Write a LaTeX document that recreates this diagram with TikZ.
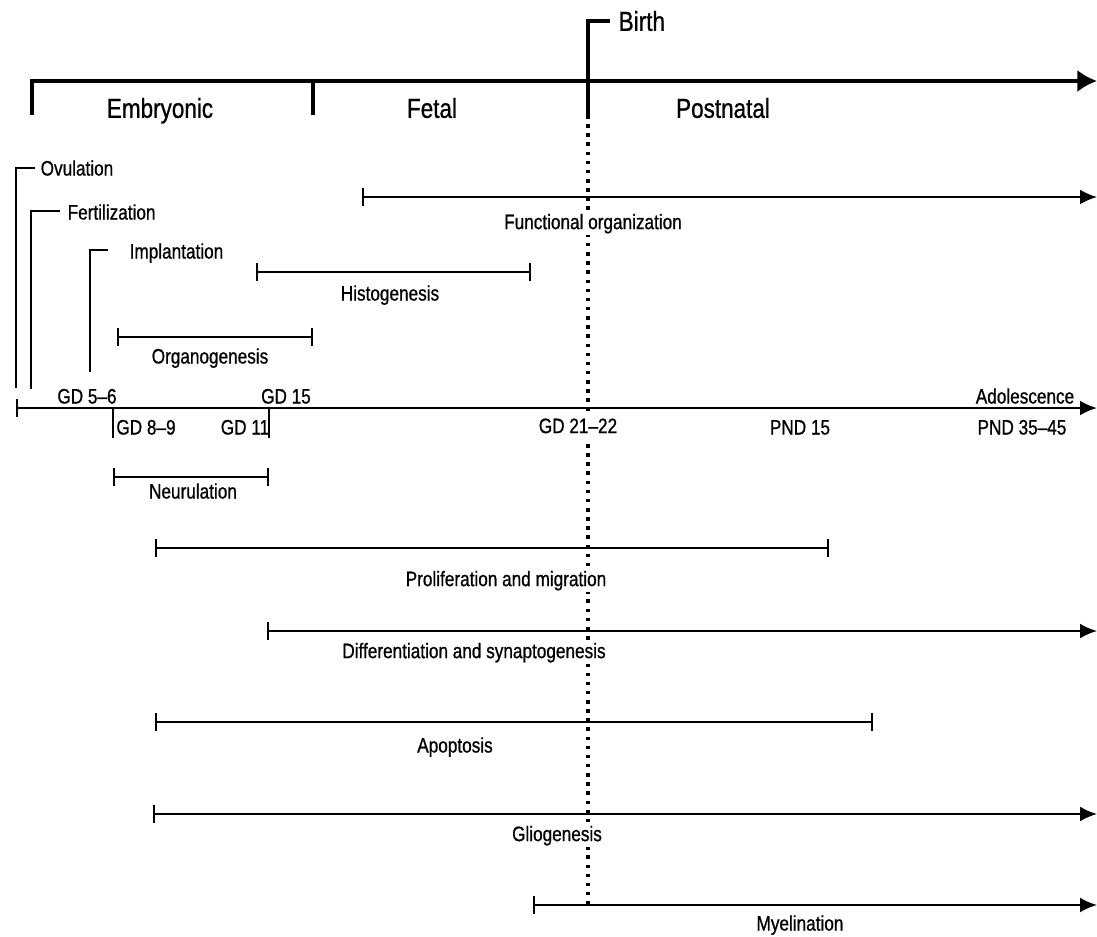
\documentclass[tikz,border=0pt]{standalone}
\usepackage{fontspec}
\setmainfont[FakeStretch=0.82,FakeBold=0.8]{Liberation Sans}
\usepackage{tikz}
\usetikzlibrary{arrows.meta,positioning}

\begin{document}
\begin{tikzpicture}[x=0.025cm,y=-0.025cm,every node/.style={font=\fontsize{14.9}{17}\selectfont,inner sep=1pt,text height=10.7pt,text depth=0pt},period/.style={font=\fontsize{19.5}{23}\selectfont,text height=14pt},over/.style={fill=white,inner sep=2pt,text depth=2pt},span/.style={line width=1.4pt,{Bar[width=13pt]}-{Bar[width=13pt]}},onward/.style={line width=1.4pt,{Bar[width=13pt]}-{Latex[length=12pt,width=10.5pt]}},evt/.style={line width=1.4pt},gdtick/.style={line width=1.4pt}]
\useasboundingbox (0,0) rectangle (1097,936);
% periods
\coordinate (stA) at (32,115);
\coordinate (stB) at (313,115);
\coordinate (stEnd) at (1097,81);
\coordinate (birthstub) at (610,21);
\coordinate (birthlow) at (588,115);
\coordinate (birthend) at (588,905);
\draw[line width=2.8pt,-{Latex[length=14pt,width=16pt]}] (stA) |- (stEnd);
\draw[line width=2.8pt] (stB) -- (stB |- stEnd);
\draw[line width=2.4pt] (birthstub) -| (birthlow);
\draw[line width=2.2pt,dash pattern=on 2.5pt off 4pt] (birthlow) -- (birthend);
\node[period,anchor=west,right=5pt of birthstub] (birth) {Birth};
\node[period] (embryonic) at (160,108) {Embryonic};
\node[period] (fetal) at (432,108) {Fetal};
\node[period] (postnatal) at (723,108) {Postnatal};
% early events
\node[anchor=west] (ovul) at (39,168) {Ovulation};
\node[anchor=west] (fert) at (66,212) {Fertilization};
\node[anchor=west] (impl) at (128,251) {Implantation};
\coordinate (ovfoot) at (16,388);
\coordinate (ovstub) at (35,168);
\coordinate (fefoot) at (31,389);
\coordinate (festub) at (60,211);
\coordinate (imfoot) at (90,372);
\coordinate (imstub) at (108,250);
\draw[evt] (ovfoot) |- (ovstub);
\draw[evt] (fefoot) |- (festub);
\draw[evt] (imfoot) |- (imstub);
% processes above the axis
\coordinate (fo0) at (362,197);
\coordinate (fo1) at (1097,197);
\coordinate (hi0) at (256,272);
\coordinate (hi1) at (531,272);
\coordinate (or0) at (117,337);
\coordinate (or1) at (313,337);
\draw[onward] (fo0) -- (fo1);
\draw[span] (hi0) -- (hi1);
\draw[span] (or0) -- (or1);
\node[over] (funct) at (593,223) {Functional organization};
\node (histo) at (390,293) {Histogenesis};
\node (organo) at (210,356) {Organogenesis};
% time axis
\coordinate (tl0) at (16,408);
\coordinate (tl1) at (1097,408);
\coordinate (g89a) at (113,408);
\coordinate (g89b) at (113,438);
\coordinate (g11a) at (269,408);
\coordinate (g11b) at (269,438);
\draw[line width=1.7pt,{Bar[width=13pt]}-{Latex[length=12pt,width=10.5pt]}] (tl0) -- (tl1);
\draw[gdtick] (g89a) -- (g89b);
\draw[gdtick] (g11a) -- (g11b);
\node (gd56) at (87,396) {GD 5--6};
\node (gd15) at (286,396) {GD 15};
\node (adol) at (1025,396) {Adolescence};
\node (gd89) at (146,427) {GD 8--9};
\node (gd11) at (245,427) {GD 11};
\node[over] (gd2122) at (578,427) {GD 21--22};
\node (pnd15) at (800,427) {PND 15};
\node (pnd3545) at (1022,427) {PND 35--45};
% processes below the axis
\coordinate (ne0) at (113,477);
\coordinate (ne1) at (269,477);
\coordinate (pr0) at (155,548);
\coordinate (pr1) at (829,548);
\coordinate (di0) at (267,631);
\coordinate (di1) at (1097,631);
\coordinate (ap0) at (155,722);
\coordinate (ap1) at (873,722);
\coordinate (gl0) at (153,814);
\coordinate (gl1) at (1097,814);
\coordinate (my0) at (533,905);
\coordinate (my1) at (1097,905);
\draw[span] (ne0) -- (ne1);
\draw[span] (pr0) -- (pr1);
\draw[onward] (di0) -- (di1);
\draw[span] (ap0) -- (ap1);
\draw[onward] (gl0) -- (gl1);
\draw[onward] (my0) -- (my1);
\node (neur) at (193,491) {Neurulation};
\node[over] (prolif) at (506,580) {Proliferation and migration};
\node[over] (diff) at (474,652) {Differentiation and synaptogenesis};
\node (apopt) at (455,745) {Apoptosis};
\node[over] (glio) at (557,835) {Gliogenesis};
\node (myel) at (800,923) {Myelination};
\end{tikzpicture}
\end{document}
